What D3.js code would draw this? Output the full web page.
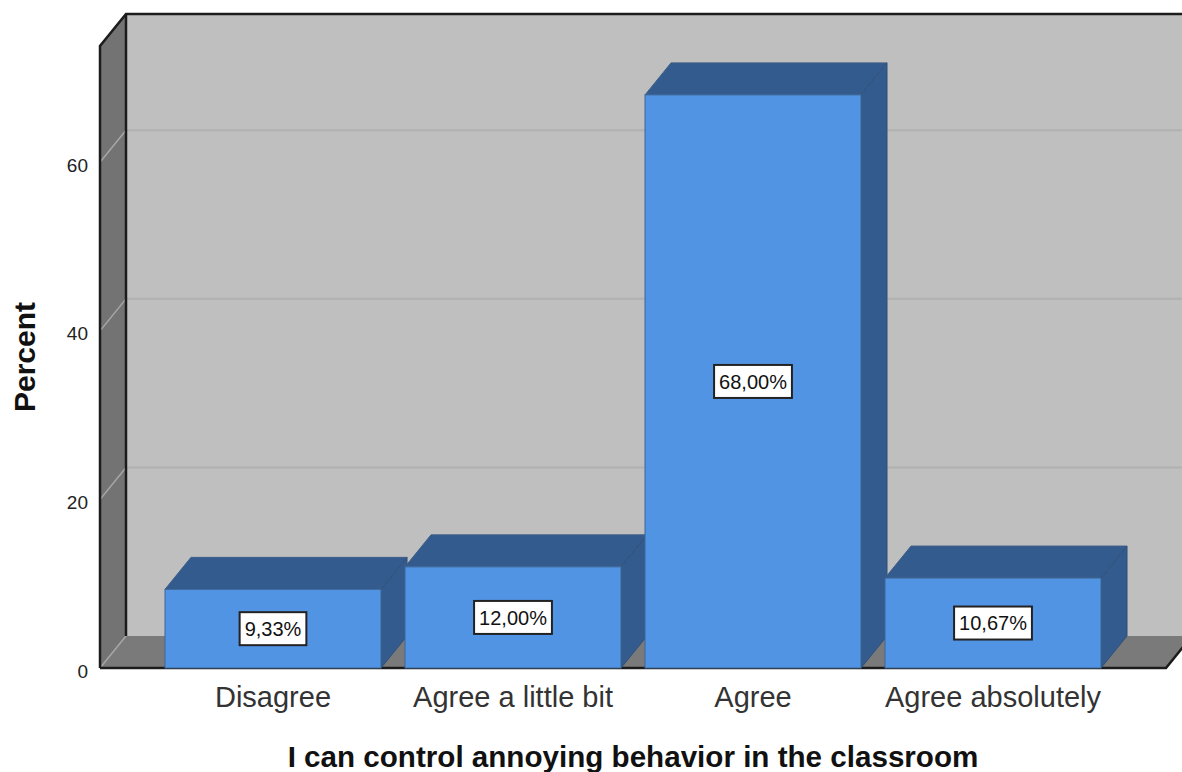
<!DOCTYPE html>
<html>
<head>
<meta charset="utf-8">
<script src="https://cdn.jsdelivr.net/npm/d3@7/dist/d3.min.js"></script>
<style>
html, body { margin: 0; padding: 0; background: #fff; overflow: hidden; }
svg { display: block; font-family: "Liberation Sans", Arial, sans-serif; }
</style>
</head>
<body>
<svg id="chart" width="1182" height="772"></svg>
<script>
const categories = ["Disagree", "Agree a little bit", "Agree", "Agree absolutely"];
const percents = [9.33, 12.00, 68.00, 10.67];
const yTicks = [0, 20, 40, 60];
const yAxisTitle = "Percent";
const xAxisTitle = "I can control annoying behavior in the classroom";

const svg = d3.select("#chart");

// Oblique projection: the back plane sits this far from the front plane
const depthX = 26, depthY = -32;
const left = 100, right = 1166, baseY = 668, topY = 46;

const y = d3.scaleLinear().domain([0, 73.8]).range([baseY, topY]);
const x = d3.scaleBand().domain(categories).range([165, 1101]).paddingInner(0.1).paddingOuter(0);

const poly = pts => pts.map(p => p.join(",")).join(" ");

// Back wall, side wall and floor of the box
svg.append("rect")
  .attr("x", left + depthX).attr("y", topY + depthY)
  .attr("width", right - left + 40).attr("height", baseY - topY)
  .attr("fill", "#bfbfbf");
svg.append("polygon")
  .attr("points", poly([[left, baseY], [left, topY], [left + depthX, topY + depthY], [left + depthX, baseY + depthY]]))
  .attr("fill", "#737373");
svg.append("polygon")
  .attr("points", poly([[left, baseY], [left + depthX, baseY + depthY], [right + depthX, baseY + depthY], [right, baseY]]))
  .attr("fill", "#7a7a7a");

// Gridlines run along the back wall and fold down the side wall
const gridTicks = yTicks.filter(t => t > 0);
svg.append("g").selectAll("line").data(gridTicks).join("line")
  .attr("x1", left + depthX).attr("x2", 1182)
  .attr("y1", d => y(d) + depthY).attr("y2", d => y(d) + depthY)
  .attr("stroke", "#b1b1b1").attr("stroke-width", 2);
svg.append("g").selectAll("line").data(yTicks).join("line")
  .attr("x1", left).attr("x2", left + depthX)
  .attr("y1", d => y(d)).attr("y2", d => y(d) + depthY)
  .attr("stroke", "#a6a6a6").attr("stroke-width", 1.5);

// Box outline
const outline = svg.append("g").attr("fill", "none").attr("stroke", "#1c1c1c").attr("stroke-width", 2.5);
outline.append("path").attr("d", d3.line()([
  [left, baseY], [left, topY], [left + depthX, topY + depthY], [1182, topY + depthY]
]));
outline.append("path").attr("d", d3.line()([
  [left + depthX, topY + depthY], [left + depthX, baseY + depthY]
]));
outline.append("path").attr("d", d3.line()([
  [left, baseY], [right, baseY], [right + depthX, baseY + depthY]
]));

// Bars, left to right so that each front face covers its neighbour's side
const rows = categories.map((c, i) => ({ category: c, value: percents[i] }));
const bars = svg.append("g").selectAll("g").data(rows).join("g");

bars.append("polygon")
  .attr("points", d => {
    const x0 = x(d.category), x1 = x0 + x.bandwidth(), t = y(d.value);
    return poly([[x0, t], [x0 + depthX, t + depthY], [x1 + depthX, t + depthY], [x1, t]]);
  })
  .attr("fill", "#345b8e").attr("stroke", "#3f5f88").attr("stroke-width", 1);
bars.append("polygon")
  .attr("points", d => {
    const x1 = x(d.category) + x.bandwidth(), t = y(d.value);
    return poly([[x1, t], [x1 + depthX, t + depthY], [x1 + depthX, baseY + depthY], [x1, baseY]]);
  })
  .attr("fill", "#345b8e").attr("stroke", "#2f5178").attr("stroke-width", 1);
bars.append("rect")
  .attr("x", d => x(d.category)).attr("y", d => y(d.value))
  .attr("width", x.bandwidth()).attr("height", d => baseY - y(d.value))
  .attr("fill", "#5294e4").attr("stroke", "#3f6796").attr("stroke-width", 1);

// Value labels in white boxes, centred on each front face
const valueLabels = bars.append("g")
  .attr("transform", d => `translate(${x(d.category) + x.bandwidth() / 2},${(y(d.value) + baseY) / 2})`);
const boxes = valueLabels.append("rect").attr("fill", "#fff").attr("stroke", "#222").attr("stroke-width", 2);
const boxText = valueLabels.append("text")
  .attr("text-anchor", "middle").attr("dy", "0.36em")
  .attr("font-size", 20).attr("fill", "#111")
  .text(d => d.value.toFixed(2).replace(".", ",") + "%");
boxText.each(function (d, i) {
  const w = this.getComputedTextLength() + 10;
  d3.select(boxes.nodes()[i]).attr("x", -w / 2).attr("width", w).attr("y", -16.5).attr("height", 33);
});

// Axes
const yAxis = svg.append("g")
  .attr("transform", `translate(${left},3)`)
  .call(d3.axisLeft(y).tickValues(yTicks).tickSize(0).tickPadding(12));
yAxis.select(".domain").remove();
yAxis.selectAll("text").attr("font-size", 19).attr("font-family", "inherit").attr("fill", "#222");

const xAxis = svg.append("g")
  .attr("transform", `translate(0,${baseY})`)
  .call(d3.axisBottom(x).tickSize(0).tickPadding(18));
xAxis.select(".domain").remove();
xAxis.selectAll("text").attr("font-size", 29).attr("font-family", "inherit").attr("fill", "#333");

// Axis titles
svg.append("text")
  .attr("transform", "translate(35,357) rotate(-90)")
  .attr("text-anchor", "middle").attr("font-size", 30).attr("font-weight", "bold").attr("fill", "#111")
  .text(yAxisTitle);
svg.append("text")
  .attr("x", 633).attr("y", 767)
  .attr("text-anchor", "middle").attr("font-size", 29.6).attr("font-weight", "bold").attr("fill", "#111")
  .text(xAxisTitle);
</script>
</body>
</html>
